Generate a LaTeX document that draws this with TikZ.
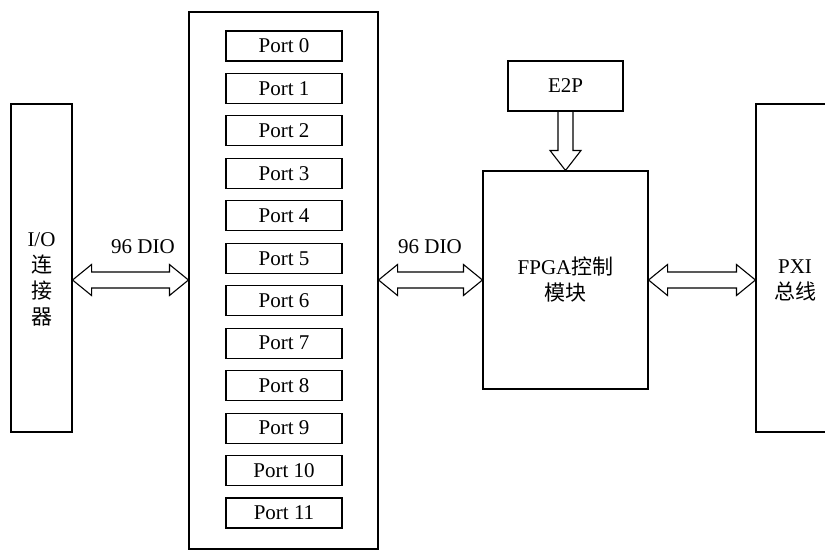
\documentclass[tikz,border=0pt]{standalone}
\usepackage{fontspec}
\setmainfont{Liberation Serif}
\newfontfamily\cjk{Noto Sans CJK SC}
\usetikzlibrary{calc}
\tikzset{every node/.style={font=\fontsize{21}{26}\selectfont, inner sep=0pt}}
\tikzset{box/.style={draw, rectangle}, portbox/.style={draw, rectangle, minimum width=116, minimum height=30}}
\newcommand{\dblarrow}[2]{%
  \draw (#1) -- ++(19,-15.5) -- ++(0,7.5) -- ($(#2)+(-19,-8)$) -- ++(0,-7.5) --
   (#2) -- ++(-19,15.5) -- ++(0,-7.5) -- ($(#1)+(19,8)$) -- ++(0,7.5) -- cycle;}

\begin{document}
\begin{tikzpicture}[x=1pt,y=-1pt,line width=1.1pt]
  \useasboundingbox (0,0) rectangle (825,550);
  \node[box, minimum width=61, minimum height=328] (io) at (41.5,268) {};
  \node[align=center] (iotext) at (41.5,279) {I/O\\{\cjk 连}\\{\cjk 接}\\{\cjk 器}};
  \node[box, minimum width=189, minimum height=537] (ports) at (283.5,280.5) {};
  \foreach \i in {0,...,11}
    \node[portbox] (p\i) at (284,46+42.45*\i) {Port \i};
  \node[box, minimum width=115, minimum height=50] (e2p) at (565.5,86) {E2P};
  \node[box, minimum width=165, minimum height=218, align=center] (fpga) at (565.5,280)
    {FPGA{\cjk 控制}\\{\cjk 模块}};
  \node[box, minimum width=78, minimum height=328] (pxi) at (795,268) {};
  \node[align=center] (pxitext) at (795,280) {PXI\\{\cjk 总线}};
  \dblarrow{io.east |- fpga.west}{ports.west |- fpga.west}
  \dblarrow{ports.east |- fpga.west}{fpga.west}
  \dblarrow{fpga.east}{pxi.west |- fpga.east}
  \node (dio1) at (143,247) {96 DIO};
  \node (dio2) at (430,247) {96 DIO};
  \draw ($(e2p.south)+(-7.5,0)$) -- ($(fpga.north)+(-7.5,-20)$) -- ++(-8,0) --
   (fpga.north) -- ++(15.5,-20) -- ++(-8,0) -- ($(e2p.south)+(7.5,0)$);
\end{tikzpicture}
\end{document}
